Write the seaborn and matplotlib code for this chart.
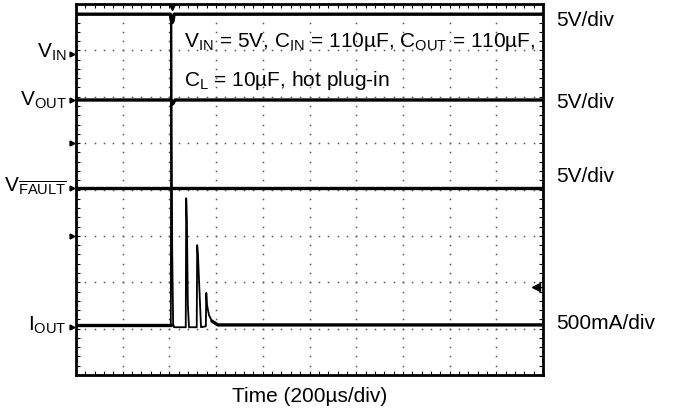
import numpy as np
import pandas as pd
import matplotlib
matplotlib.use("Agg")
import matplotlib.pyplot as plt
import seaborn as sns

# ---- data (time in divisions, level in divisions from bottom of screen) ----
t_vin = [0.0, 2.02, 2.04, 2.06, 2.08, 2.10, 10.0]
v_vin = [7.78, 7.78, 7.64, 7.60, 7.64, 7.78, 7.78]

t_vout = [0.0, 2.04, 2.06, 2.08, 2.12, 10.0]
v_vout = [5.93, 5.93, 5.84, 5.86, 5.93, 5.93]

t_vfault = [0.0, 10.0]
v_vfault = [4.03, 4.03]

t_iout = [0.0, 2.030, 2.040, 2.060, 2.080, 2.100, 2.350, 2.360, 2.375, 2.395,
          2.420, 2.585, 2.595, 2.612, 2.634, 2.677, 2.780, 2.790, 2.805, 2.848,
          2.912, 3.040, 10.0]
v_iout = [1.08, 1.08, 7.65, 2.69, 1.10, 1.03, 1.03, 3.81, 3.30, 1.51,
          1.03, 1.03, 2.80, 2.59, 2.05, 1.03, 1.05, 1.77, 1.51, 1.29,
          1.16, 1.08, 1.08]

gnd_markers = [6.92, 5.93, 5.00, 4.03, 3.00, 1.03]
trig_level = 1.90
trig_time = 2.06

left_labels = [r"V$_{\mathrm{IN}}$", r"V$_{\mathrm{OUT}}$",
               r"V$_{\overline{\mathrm{FAULT}}}$", r"I$_{\mathrm{OUT}}$"]
left_label_y = [6.96, 5.93, 4.07, 1.08]
right_labels = ["5V/div", "5V/div", "5V/div", "500mA/div"]
right_label_y = [7.65, 5.88, 4.29, 1.12]
note_lines = [r"V$_{\mathrm{IN}}$ = 5V, C$_{\mathrm{IN}}$ = 110µF, C$_{\mathrm{OUT}}$ = 110µF,",
              r"C$_{\mathrm{L}}$ = 10µF, hot plug-in"]
xlabel = "Time (200µs/div)"

# ---- style ----
sns.set_theme(style="white")
plt.rcParams["font.family"] = ["Liberation Sans", "DejaVu Sans"]
plt.rcParams["mathtext.fontset"] = "custom"
plt.rcParams["mathtext.rm"] = "Liberation Sans"
plt.rcParams["mathtext.it"] = "Liberation Sans"
plt.rcParams["mathtext.bf"] = "Liberation Sans"
plt.rcParams["text.color"] = "black"

fig = plt.figure(figsize=(6.76, 4.15), dpi=100)
ax = fig.add_axes([76/676, 1-375/415, (543-76)/676, (375-4)/415])
ax.set_xlim(0, 10)
ax.set_ylim(0, 8)

# graticule dots
gx = np.arange(0, 10.001, 0.2)
gy = np.arange(0, 8.001, 0.2)
for k in range(1, 10):
    ax.plot(np.full_like(gy, k), gy, ls="none", marker="s", ms=1.1,
            mew=0, color="#555555", zorder=1)
for k in range(1, 8):
    ax.plot(gx, np.full_like(gx, k), ls="none", marker="s", ms=1.1,
            mew=0, color="#555555", zorder=1)

lw = 2.4
for tt, vv in [(t_vin, v_vin), (t_vout, v_vout), (t_vfault, v_vfault)]:
    df = pd.DataFrame({"t": tt, "v": vv})
    sns.lineplot(data=df, x="t", y="v", ax=ax, color="black", lw=lw,
                 estimator=None, sort=False, zorder=3)
df_i = pd.DataFrame({"t": t_iout, "v": v_iout})
sns.lineplot(data=df_i, x="t", y="v", ax=ax, color="black", lw=1.3,
             estimator=None, sort=False, zorder=3)
# thicker noisy baseline look for the current trace (same data, clipped to flat parts)
base = df_i[(df_i["t"] <= 2.03) | (df_i["t"] >= 2.9)]
sns.lineplot(data=base.iloc[:2], x="t", y="v", ax=ax, color="black", lw=lw,
             estimator=None, sort=False, zorder=3)
sns.lineplot(data=base.iloc[2:], x="t", y="v", ax=ax, color="black", lw=lw,
             estimator=None, sort=False, zorder=3)

# frame & ticks
for s in ax.spines.values():
    s.set_linewidth(2.0)
    s.set_color("black")
ax.set_xticks(np.arange(0, 11, 1))
ax.set_yticks(np.arange(0, 9, 1))
ax.set_xticks(gx, minor=True)
ax.set_yticks(gy, minor=True)
ax.tick_params(which="both", direction="in", length=3, width=0.8,
               top=True, right=True, bottom=True, left=True,
               labelbottom=False, labelleft=False, color="black")
ax.set_xlabel("")
ax.set_ylabel("")

# ground markers on left
for y in gnd_markers:
    ax.plot([-0.08], [y], marker=">", ms=3.5, color="black", clip_on=False, zorder=5)
# trigger level marker
ax.plot([9.86], [trig_level], marker="<", ms=5.5, color="black", zorder=5)
ax.plot([9.86, 9.99], [trig_level, trig_level], color="black", lw=0.9, zorder=5)
# trigger time marker
ax.plot([trig_time], [7.94], marker="v", ms=5, color="black", zorder=5, clip_on=False)

fs = 15
for lab, y in zip(left_labels, left_label_y):
    ax.text(-0.2, y, lab, ha="right", va="center", fontsize=fs)
for lab, y in zip(right_labels, right_label_y):
    ax.text(10.28, y, lab, ha="left", va="center", fontsize=fs)
ax.text(2.31, 7.18, note_lines[0], ha="left", va="center", fontsize=fs)
ax.text(2.31, 6.36, note_lines[1], ha="left", va="center", fontsize=fs)
ax.text(5.0, -0.47, xlabel, ha="center", va="center", fontsize=fs)

fig.savefig("out.png", dpi=100)
